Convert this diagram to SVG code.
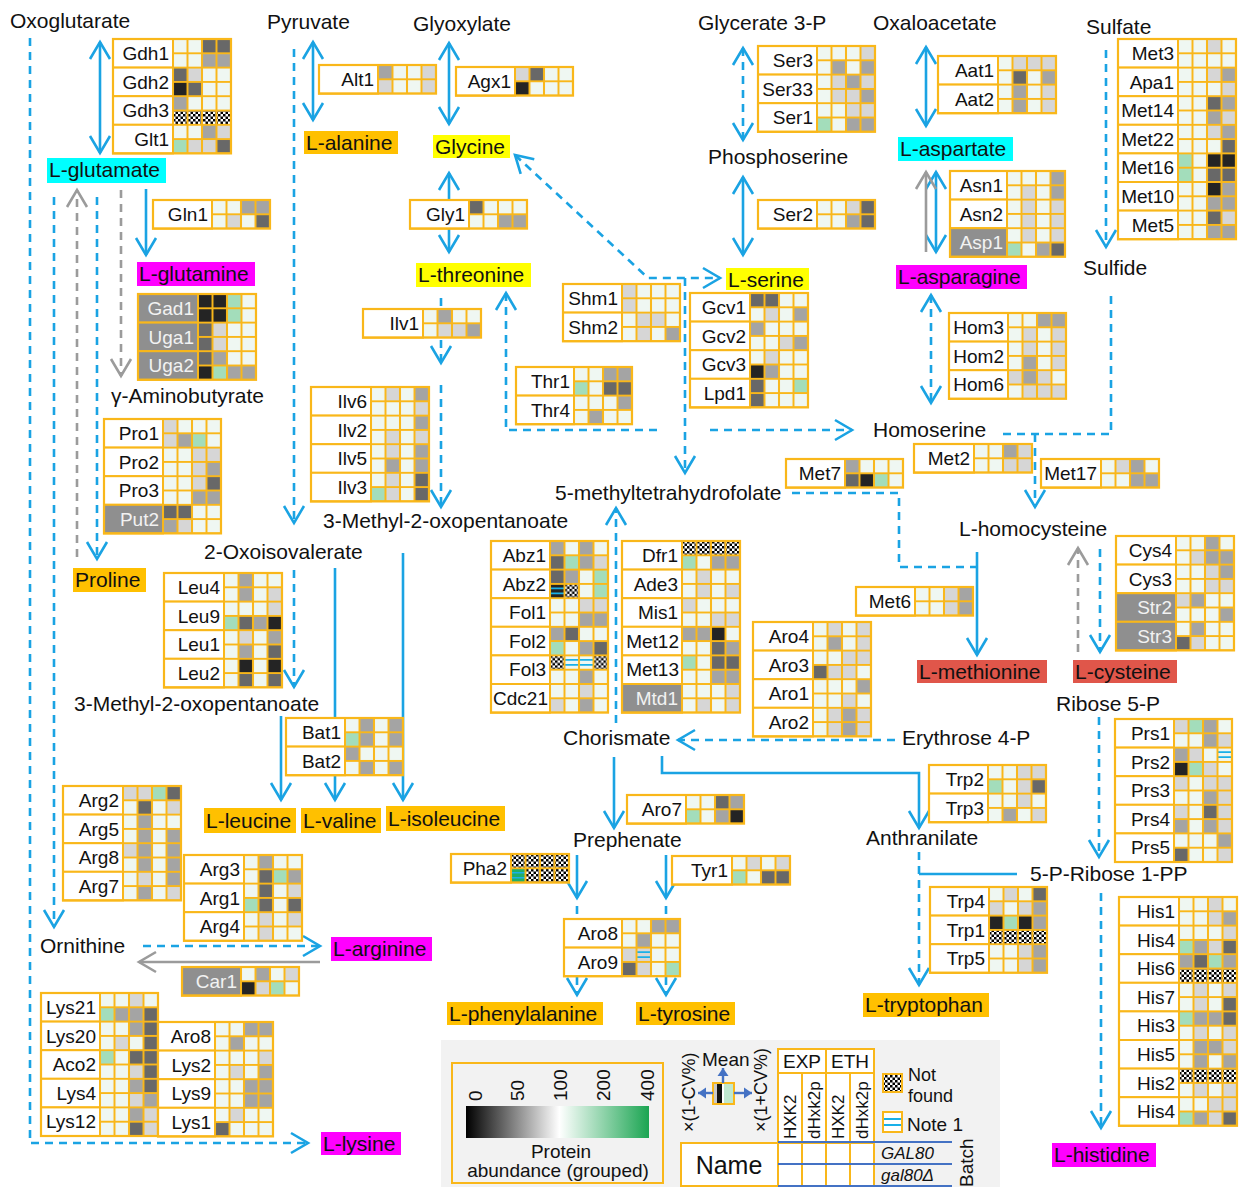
<svg xmlns="http://www.w3.org/2000/svg" width="1239" height="1187" viewBox="0 0 1239 1187">
<defs>
<style>
.nm{fill:#fff;stroke:#f9b71a;stroke-width:2}
.ng{fill:#8f8f8f;stroke:#f9b71a;stroke-width:2}
.hb{fill:#eff7f2}
.gr{fill:url(#grid)}
.ob{fill:none;stroke:#f9b71a;stroke-width:2.2}
text{font-family:"Liberation Sans",Arial,sans-serif}
.t{font-size:19px;text-anchor:end;fill:#111}
.tw{fill:#f2f2f2}
.lb{font-size:21px;fill:#111}
.G{fill:#a3ddbb}.k{fill:#d6d6d6}.m{fill:#a4a4a4}.d{fill:#686868}.K{fill:#242424}.x{fill:url(#chk)}
.b{fill:none;stroke:#1aa3e3;stroke-width:2.6}
.gy{fill:none;stroke:#9b9b9b;stroke-width:2.6}
.ds{stroke-dasharray:8 6}
.ae{marker-end:url(#a)}.as{marker-start:url(#a)}.age{marker-end:url(#ag)}.ale{marker-end:url(#al)}
.cy{fill:#00ffff}.yl{fill:#ffff00}.mg{fill:#ff00ff}.or{fill:#ffc000}.rd{fill:#e0564a}
</style>
<pattern id="grid" width="14.5" height="14.3" patternUnits="userSpaceOnUse"><path d="M0,0H14.5V14.3H0Z" fill="none" stroke="#f9b71a" stroke-width="2"/></pattern>
<pattern id="chk" width="5" height="5" patternUnits="userSpaceOnUse"><rect width="5" height="5" fill="#fff"/><path d="M0,0h2.5v2.5h-2.5zM2.5,2.5h2.5v2.5h-2.5z" fill="#000"/></pattern>
<linearGradient id="grad" x1="0" x2="1" y1="0" y2="0"><stop offset="0" stop-color="#000"/><stop offset="0.51" stop-color="#fff"/><stop offset="1" stop-color="#1ba552"/></linearGradient>
<rect id="c" width="14.5" height="14.3"/>
<path id="nl" d="M0,4.5H14.5M0,9.5H14.5" stroke="#1ab0e8" stroke-width="1.6"/>
<marker id="a" viewBox="-22 -13 26 26" refX="0" refY="0" markerWidth="26" markerHeight="26" markerUnits="userSpaceOnUse" orient="auto-start-reverse"><path d="M-17,-10L0,0L-17,10" fill="none" stroke="#1aa3e3" stroke-width="2.6"/></marker>
<marker id="ag" viewBox="-22 -13 26 26" refX="0" refY="0" markerWidth="26" markerHeight="26" markerUnits="userSpaceOnUse" orient="auto-start-reverse"><path d="M-17,-10L0,0L-17,10" fill="none" stroke="#9b9b9b" stroke-width="2.6"/></marker>
<marker id="al" viewBox="-9 -6 10 12" refX="0" refY="0" markerWidth="10" markerHeight="12" markerUnits="userSpaceOnUse" orient="auto"><path d="M-8,-5.5L0,0L-8,5.5Z" fill="#4472c4"/></marker>
</defs>
<rect width="1239" height="1187" fill="#fff"/>

<g id="connectors">
<path class="b ae as" d="M100,42V153"/>
<path class="b ae as" d="M313,42V120"/>
<path class="b ae as" d="M449,43V124"/>
<path class="b ae as" d="M449,173V252"/>
<path class="b ae as" d="M743,177V255"/>
<path class="b ae as" d="M926,47V126"/>
<path class="b ae as" d="M936,172V252"/>
<path class="b ae" d="M146,189V255"/>
<path class="b ae" d="M335,568V800"/>
<path class="b ae" d="M403,553V800"/>
<path class="b ae" d="M281,716V800"/>
<path class="b ae" d="M977,552V655"/>
<path class="b ae" d="M614,757V828"/>
<path class="b ae" d="M662,756V773H919V828"/>
<path class="b" d="M1017,874H919"/>
<path class="b ae" d="M577,855V898"/>
<path class="b ae" d="M666,855V898"/>
<path class="b ds ae" d="M30,38V1143H308"/>
<path class="b ds ae" d="M54,197V927"/>
<path class="b ds ae" d="M97,197V559"/>
<path class="b ds ae" d="M294,49V523"/>
<path class="b ds ae" d="M294,570V687"/>
<path class="b ds ae" d="M441,298V363"/>
<path class="b ds ae" d="M441,385V507"/>
<path class="b ds ae as" d="M515,155L648,278H720"/>
<path class="b ds ae" d="M685,278V473"/>
<path class="b ds as" d="M506,293V430H663"/>
<path class="b ds ae" d="M710,430H852"/>
<path class="b ds ae as" d="M743,48V140"/>
<path class="b ds ae as" d="M931,295V403"/>
<path class="b ds ae" d="M1106,50V247"/>
<path class="b ds" d="M1111,296V434H997"/>
<path class="b ds ae" d="M1035,434V507"/>
<path class="b ds" d="M792,493H899V567H977"/>
<path class="b ds ae" d="M1100,549V652"/>
<path class="b ds ae" d="M1099,717V857"/>
<path class="b ds ae" d="M1101,893V1128"/>
<path class="b ds ae" d="M919,852V985"/>
<path class="b ds ae" d="M895,740H678"/>
<path class="b ds ae" d="M616,723V508"/>
<path class="b ds ae" d="M143,946H320"/>
<path class="b ds" d="M577,906V919M666,906V919"/>
<path class="b ds ae" d="M577,977V995"/>
<path class="b ds ae" d="M666,977V995"/>
<path class="gy ds age" d="M77,557V190"/>
<path class="gy ds age" d="M121,190V376"/>
<path class="gy age" d="M926,252V172"/>
<path class="gy ds age" d="M1078,652V548"/>
<path class="gy age" d="M320,962H139"/>
</g>

<g id="metabolites">
<text class="lb" x="10" y="28">Oxoglutarate</text>
<text class="lb" x="267" y="29">Pyruvate</text>
<text class="lb" x="413" y="31">Glyoxylate</text>
<text class="lb" x="698" y="30">Glycerate 3-P</text>
<text class="lb" x="873" y="30">Oxaloacetate</text>
<text class="lb" x="1086" y="34">Sulfate</text>
<text class="lb" x="708" y="164">Phosphoserine</text>
<text class="lb" x="1083" y="275">Sulfide</text>
<text class="lb" x="111" y="403">γ-Aminobutyrate</text>
<text class="lb" x="873" y="437">Homoserine</text>
<text class="lb" x="555" y="500">5-methyltetrahydrofolate</text>
<text class="lb" x="323" y="528">3-Methyl-2-oxopentanoate</text>
<text class="lb" x="959" y="536">L-homocysteine</text>
<text class="lb" x="204" y="559">2-Oxoisovalerate</text>
<text class="lb" x="74" y="711">3-Methyl-2-oxopentanoate</text>
<text class="lb" x="1056" y="711">Ribose 5-P</text>
<text class="lb" x="563" y="745">Chorismate</text>
<text class="lb" x="902" y="745">Erythrose 4-P</text>
<text class="lb" x="866" y="845">Anthranilate</text>
<text class="lb" x="573" y="847">Prephenate</text>
<text class="lb" x="1030" y="881">5-P-Ribose 1-PP</text>
<text class="lb" x="40" y="953">Ornithine</text>
</g>
<g id="aminoacids">
<rect class="cy" x="47" y="158" width="119" height="25"/><text class="lb" x="49" y="177">L-glutamate</text>
<rect class="or" x="304" y="131" width="94" height="23"/><text class="lb" x="306" y="150">L-alanine</text>
<rect class="yl" x="433" y="135" width="77" height="23"/><text class="lb" x="435" y="154">Glycine</text>
<rect class="mg" x="137" y="262" width="118" height="24"/><text class="lb" x="139" y="281">L-glutamine</text>
<rect class="yl" x="416" y="263" width="115" height="24"/><text class="lb" x="418" y="282">L-threonine</text>
<rect class="yl" x="726" y="268" width="83" height="22"/><text class="lb" x="728" y="287">L-serine</text>
<rect class="cy" x="898" y="137" width="115" height="24"/><text class="lb" x="900" y="156">L-aspartate</text>
<rect class="mg" x="896" y="265" width="131" height="24"/><text class="lb" x="898" y="284">L-asparagine</text>
<rect class="or" x="73" y="568" width="73" height="24"/><text class="lb" x="75" y="587">Proline</text>
<rect class="rd" x="917" y="660" width="130" height="23"/><text class="lb" x="919" y="679">L-methionine</text>
<rect class="rd" x="1073" y="660" width="104" height="23"/><text class="lb" x="1075" y="679">L-cysteine</text>
<rect class="or" x="204" y="808" width="92" height="25"/><text class="lb" x="206" y="828">L-leucine</text>
<rect class="or" x="301" y="808" width="80" height="25"/><text class="lb" x="303" y="828">L-valine</text>
<rect class="or" x="386" y="806" width="119" height="25"/><text class="lb" x="388" y="826">L-isoleucine</text>
<rect class="mg" x="331" y="937" width="101" height="24"/><text class="lb" x="333" y="956">L-arginine</text>
<rect class="mg" x="321" y="1132" width="80" height="23"/><text class="lb" x="323" y="1151">L-lysine</text>
<rect class="or" x="447" y="1002" width="156" height="23"/><text class="lb" x="449" y="1021">L-phenylalanine</text>
<rect class="or" x="636" y="1002" width="99" height="23"/><text class="lb" x="638" y="1021">L-tyrosine</text>
<rect class="or" x="863" y="993" width="126" height="24"/><text class="lb" x="865" y="1012">L-tryptophan</text>
<rect class="mg" x="1052" y="1143" width="104" height="24"/><text class="lb" x="1054" y="1162">L-histidine</text>
</g>

<g id="n-gdh" transform="translate(113,39)">
<rect class="nm" width="60" height="28.6"/><rect class="nm" y="28.6" width="60" height="28.6"/><rect class="nm" y="57.2" width="60" height="28.6"/><rect class="nm" y="85.8" width="60" height="28.6"/>
<text class="t" x="56" y="21">Gdh1</text><text class="t" x="56" y="49.6">Gdh2</text><text class="t" x="56" y="78.2">Gdh3</text><text class="t" x="56" y="106.8">Glt1</text>
<g transform="translate(60,0)"><rect class="hb" width="58" height="114.4"/>
<use href="#c" class="d" x="29"/><use href="#c" class="d" x="43.5"/><use href="#c" class="m" x="29" y="14.3"/><use href="#c" class="m" x="43.5" y="14.3"/>
<use href="#c" class="d" y="28.6"/><use href="#c" class="k" x="14.5" y="28.6"/><use href="#c" class="K" y="42.9"/><use href="#c" class="d" x="14.5" y="42.9"/>
<use href="#c" class="m" y="57.2"/><rect class="x" y="71.5" width="58" height="14.3"/>
<use href="#c" class="m" x="29" y="85.8"/><use href="#c" class="k" x="43.5" y="85.8"/><use href="#c" class="G" y="100.1"/><use href="#c" class="k" x="14.5" y="100.1"/><use href="#c" class="k" x="29" y="100.1"/><use href="#c" class="d" x="43.5" y="100.1"/>
<rect class="gr" width="58" height="114.4"/></g>
<rect class="ob" width="118" height="114.4"/>
</g>

<g id="n-alt1" transform="translate(319,65)">
<rect class="nm" width="59" height="28.6"/><text class="t" x="55" y="21">Alt1</text>
<g transform="translate(59,0)"><rect class="hb" width="58" height="28.6"/>
<use href="#c" class="m"/><use href="#c" class="k" x="43.5"/><use href="#c" class="k" y="14.3"/><use href="#c" class="k" x="43.5" y="14.3"/>
<rect class="gr" width="58" height="28.6"/></g>
<rect class="ob" width="117" height="28.6"/>
</g>

<g id="n-agx1" transform="translate(456,67)">
<rect class="nm" width="59" height="28.6"/><text class="t" x="55" y="21">Agx1</text>
<g transform="translate(59,0)"><rect class="hb" width="58" height="28.6"/>
<use href="#c" class="k"/><use href="#c" class="d" x="14.5"/><use href="#c" class="K" y="14.3"/>
<rect class="gr" width="58" height="28.6"/></g>
<rect class="ob" width="117" height="28.6"/>
</g>

<g id="n-ser" transform="translate(758,46)">
<rect class="nm" width="59" height="28.6"/><rect class="nm" y="28.6" width="59" height="28.6"/><rect class="nm" y="57.2" width="59" height="28.6"/>
<text class="t" x="55" y="21">Ser3</text><text class="t" x="55" y="49.6">Ser33</text><text class="t" x="55" y="78.2">Ser1</text>
<g transform="translate(59,0)"><rect class="hb" width="58" height="85.8"/>
<use href="#c" class="k" x="43.5"/><use href="#c" class="m" x="14.5" y="14.3"/><use href="#c" class="m" x="43.5" y="14.3"/>
<use href="#c" class="k" x="14.5" y="28.6"/><use href="#c" class="m" x="29" y="28.6"/><use href="#c" class="k" x="43.5" y="28.6"/><use href="#c" class="k" x="14.5" y="42.9"/><use href="#c" class="k" x="29" y="42.9"/><use href="#c" class="m" x="43.5" y="42.9"/>
<use href="#c" class="k" x="29" y="57.2"/><use href="#c" class="k" x="43.5" y="57.2"/><use href="#c" class="G" y="71.5"/><use href="#c" class="m" x="29" y="71.5"/><use href="#c" class="m" x="43.5" y="71.5"/>
<rect class="gr" width="58" height="85.8"/></g>
<rect class="ob" width="117" height="85.8"/>
</g>

<g id="n-aat" transform="translate(938,56)">
<rect class="nm" width="60" height="28.6"/><rect class="nm" y="28.6" width="60" height="28.6"/>
<text class="t" x="56" y="21">Aat1</text><text class="t" x="56" y="49.6">Aat2</text>
<g transform="translate(60,0)"><rect class="hb" width="58" height="57.2"/>
<use href="#c" class="k" x="14.5"/><use href="#c" class="k" x="29"/><use href="#c" class="k" x="43.5"/><use href="#c" class="d" x="14.5" y="14.3"/><use href="#c" class="m" x="43.5" y="14.3"/>
<use href="#c" class="m" x="14.5" y="28.6"/><use href="#c" class="k" x="43.5" y="28.6"/><use href="#c" class="m" x="14.5" y="42.9"/><use href="#c" class="k" x="43.5" y="42.9"/>
<rect class="gr" width="58" height="57.2"/></g>
<rect class="ob" width="118" height="57.2"/>
</g>

<g id="n-met" transform="translate(1118,39)">
<rect class="nm" width="60" height="28.6"/><rect class="nm" y="28.6" width="60" height="28.6"/><rect class="nm" y="57.2" width="60" height="28.6"/><rect class="nm" y="85.8" width="60" height="28.6"/><rect class="nm" y="114.4" width="60" height="28.6"/><rect class="nm" y="143" width="60" height="28.6"/><rect class="nm" y="171.6" width="60" height="28.6"/>
<text class="t" x="56" y="21">Met3</text><text class="t" x="56" y="49.6">Apa1</text><text class="t" x="56" y="78.2">Met14</text><text class="t" x="56" y="106.8">Met22</text><text class="t" x="56" y="135.4">Met16</text><text class="t" x="56" y="164">Met10</text><text class="t" x="56" y="192.6">Met5</text>
<g transform="translate(60,0)"><rect class="hb" width="58" height="200.2"/>
<use href="#c" class="k" x="29"/>
<use href="#c" class="k" x="29" y="28.6"/><use href="#c" class="m" x="43.5" y="28.6"/><use href="#c" class="k" x="43.5" y="42.9"/>
<use href="#c" class="d" x="29" y="57.2"/><use href="#c" class="m" x="43.5" y="57.2"/><use href="#c" class="m" x="29" y="71.5"/><use href="#c" class="k" x="43.5" y="71.5"/>
<use href="#c" class="k" x="29" y="85.8"/><use href="#c" class="m" x="43.5" y="85.8"/><use href="#c" class="d" x="43.5" y="100.1"/>
<use href="#c" class="G" y="114.4"/><use href="#c" class="K" x="29" y="114.4"/><use href="#c" class="K" x="43.5" y="114.4"/><use href="#c" class="G" y="128.7"/><use href="#c" class="d" x="29" y="128.7"/><use href="#c" class="d" x="43.5" y="128.7"/>
<use href="#c" class="K" x="29" y="143"/><use href="#c" class="m" x="43.5" y="143"/><use href="#c" class="m" x="29" y="157.3"/><use href="#c" class="m" x="43.5" y="157.3"/>
<use href="#c" class="d" x="29" y="171.6"/><use href="#c" class="k" x="43.5" y="171.6"/><use href="#c" class="m" x="29" y="185.9"/><use href="#c" class="m" x="43.5" y="185.9"/>
<rect class="gr" width="58" height="200.2"/></g>
<rect class="ob" width="118" height="200.2"/>
</g>

<g id="n-gln1" transform="translate(153,200)">
<rect class="nm" width="59" height="28.6"/><text class="t" x="55" y="21">Gln1</text>
<g transform="translate(59,0)"><rect class="hb" width="58" height="28.6"/>
<use href="#c" class="m" x="29"/><use href="#c" class="m" x="43.5"/><use href="#c" class="k" x="14.5" y="14.3"/><use href="#c" class="d" x="43.5" y="14.3"/>
<rect class="gr" width="58" height="28.6"/></g>
<rect class="ob" width="117" height="28.6"/>
</g>

<g id="n-gly1" transform="translate(410,200)">
<rect class="nm" width="59" height="28.6"/><text class="t" x="55" y="21">Gly1</text>
<g transform="translate(59,0)"><rect class="hb" width="58" height="28.6"/>
<use href="#c" class="d"/><use href="#c" class="m" x="29" y="14.3"/><use href="#c" class="m" x="43.5" y="14.3"/>
<rect class="gr" width="58" height="28.6"/></g>
<rect class="ob" width="117" height="28.6"/>
</g>

<g id="n-ser2" transform="translate(758,200)">
<rect class="nm" width="59" height="28.6"/><text class="t" x="55" y="21">Ser2</text>
<g transform="translate(59,0)"><rect class="hb" width="58" height="28.6"/>
<use href="#c" class="k" x="29"/><use href="#c" class="d" x="43.5"/><use href="#c" class="m" x="29" y="14.3"/><use href="#c" class="d" x="43.5" y="14.3"/>
<rect class="gr" width="58" height="28.6"/></g>
<rect class="ob" width="117" height="28.6"/>
</g>

<g id="n-asn" transform="translate(950,171)">
<rect class="nm" width="57" height="28.6"/><rect class="nm" y="28.6" width="57" height="28.6"/><rect class="ng" y="57.2" width="57" height="28.6"/>
<text class="t" x="53" y="21">Asn1</text><text class="t" x="53" y="49.6">Asn2</text><text class="t tw" x="53" y="78.2">Asp1</text>
<g transform="translate(57,0)"><rect class="hb" width="58" height="85.8"/>
<use href="#c" class="m" x="43.5"/><use href="#c" class="k" x="14.5" y="14.3"/><use href="#c" class="m" x="43.5" y="14.3"/>
<use href="#c" class="k" x="14.5" y="28.6"/><use href="#c" class="k" x="43.5" y="28.6"/><use href="#c" class="k" x="14.5" y="42.9"/><use href="#c" class="k" x="43.5" y="42.9"/>
<use href="#c" class="k" x="14.5" y="57.2"/><use href="#c" class="k" x="43.5" y="57.2"/><use href="#c" class="G" y="71.5"/><use href="#c" class="m" x="29" y="71.5"/><use href="#c" class="d" x="43.5" y="71.5"/>
<rect class="gr" width="58" height="85.8"/></g>
<rect class="ob" width="115" height="85.8"/>
</g>

<g id="n-gad" transform="translate(138,294)">
<rect class="ng" width="60" height="28.6"/><rect class="ng" y="28.6" width="60" height="28.6"/><rect class="ng" y="57.2" width="60" height="28.6"/>
<text class="t tw" x="56" y="21">Gad1</text><text class="t tw" x="56" y="49.6">Uga1</text><text class="t tw" x="56" y="78.2">Uga2</text>
<g transform="translate(60,0)"><rect class="hb" width="58" height="85.8"/>
<use href="#c" class="K"/><use href="#c" class="K" x="14.5"/><use href="#c" class="G" x="29"/><use href="#c" class="K" y="14.3"/><use href="#c" class="K" x="14.5" y="14.3"/><use href="#c" class="G" x="29" y="14.3"/>
<use href="#c" class="d" y="28.6"/><use href="#c" class="k" x="14.5" y="28.6"/><use href="#c" class="d" y="42.9"/><use href="#c" class="k" x="14.5" y="42.9"/>
<use href="#c" class="d" y="57.2"/><use href="#c" class="m" x="14.5" y="57.2"/><use href="#c" class="K" y="71.5"/><use href="#c" class="G" x="14.5" y="71.5"/><use href="#c" class="m" x="29" y="71.5"/><use href="#c" class="m" x="43.5" y="71.5"/>
<rect class="gr" width="58" height="85.8"/></g>
<rect class="ob" width="118" height="85.8"/>
</g>

<g id="n-ilv1" transform="translate(363,309)">
<rect class="nm" width="60" height="28.6"/><text class="t" x="56" y="21">Ilv1</text>
<g transform="translate(60,0)"><rect class="hb" width="58" height="28.6"/>
<use href="#c" class="m" x="14.5"/><use href="#c" class="k" x="14.5" y="14.3"/><use href="#c" class="k" x="29" y="14.3"/><use href="#c" class="m" x="43.5" y="14.3"/>
<rect class="gr" width="58" height="28.6"/></g>
<rect class="ob" width="118" height="28.6"/>
</g>

<g id="n-shm" transform="translate(563,284)">
<rect class="nm" width="59" height="28.6"/><rect class="nm" y="28.6" width="59" height="28.6"/>
<text class="t" x="55" y="21">Shm1</text><text class="t" x="55" y="49.6">Shm2</text>
<g transform="translate(59,0)"><rect class="hb" width="58" height="57.2"/>
<use href="#c" class="k"/><use href="#c" class="k" y="14.3"/>
<use href="#c" class="k" x="14.5" y="28.6"/><use href="#c" class="k" x="29" y="28.6"/><use href="#c" class="k" x="14.5" y="42.9"/><use href="#c" class="m" x="43.5" y="42.9"/>
<rect class="gr" width="58" height="57.2"/></g>
<rect class="ob" width="117" height="57.2"/>
</g>

<g id="n-gcv" transform="translate(690,293)">
<rect class="nm" width="60" height="28.6"/><rect class="nm" y="28.6" width="60" height="28.6"/><rect class="nm" y="57.2" width="60" height="28.6"/><rect class="nm" y="85.8" width="60" height="28.6"/>
<text class="t" x="56" y="21">Gcv1</text><text class="t" x="56" y="49.6">Gcv2</text><text class="t" x="56" y="78.2">Gcv3</text><text class="t" x="56" y="106.8">Lpd1</text>
<g transform="translate(60,0)"><rect class="hb" width="58" height="114.4"/>
<use href="#c" class="d"/><use href="#c" class="d" x="14.5"/><use href="#c" class="k" x="14.5" y="14.3"/><use href="#c" class="m" x="43.5" y="14.3"/>
<use href="#c" class="m" y="28.6"/><use href="#c" class="k" x="29" y="42.9"/><use href="#c" class="m" x="43.5" y="42.9"/>
<use href="#c" class="k" x="14.5" y="57.2"/><use href="#c" class="K" y="71.5"/><use href="#c" class="m" x="14.5" y="71.5"/>
<use href="#c" class="d" y="85.8"/><use href="#c" class="G" x="43.5" y="85.8"/><use href="#c" class="d" y="100.1"/>
<rect class="gr" width="58" height="114.4"/></g>
<rect class="ob" width="118" height="114.4"/>
</g>

<g id="n-hom" transform="translate(949,313)">
<rect class="nm" width="59" height="28.6"/><rect class="nm" y="28.6" width="59" height="28.6"/><rect class="nm" y="57.2" width="59" height="28.6"/>
<text class="t" x="55" y="21">Hom3</text><text class="t" x="55" y="49.6">Hom2</text><text class="t" x="55" y="78.2">Hom6</text>
<g transform="translate(59,0)"><rect class="hb" width="58" height="85.8"/>
<use href="#c" class="m" x="29"/><use href="#c" class="m" x="43.5"/><use href="#c" class="k" x="14.5" y="14.3"/><use href="#c" class="k" x="43.5" y="14.3"/>
<use href="#c" class="k" x="14.5" y="28.6"/><use href="#c" class="k" x="43.5" y="28.6"/><use href="#c" class="m" x="14.5" y="42.9"/><use href="#c" class="k" x="43.5" y="42.9"/>
<use href="#c" class="k" y="57.2"/><use href="#c" class="m" x="14.5" y="57.2"/><use href="#c" class="k" x="29" y="57.2"/><use href="#c" class="k" x="14.5" y="71.5"/><use href="#c" class="k" x="29" y="71.5"/><use href="#c" class="k" x="43.5" y="71.5"/>
<rect class="gr" width="58" height="85.8"/></g>
<rect class="ob" width="117" height="85.8"/>
</g>

<g id="n-thr" transform="translate(516,367)">
<rect class="nm" width="58" height="28.6"/><rect class="nm" y="28.6" width="58" height="28.6"/>
<text class="t" x="54" y="21">Thr1</text><text class="t" x="54" y="49.6">Thr4</text>
<g transform="translate(58,0)"><rect class="hb" width="58" height="57.2"/>
<use href="#c" class="m" x="29"/><use href="#c" class="m" x="43.5"/><use href="#c" class="G" y="14.3"/><use href="#c" class="d" x="29" y="14.3"/><use href="#c" class="d" x="43.5" y="14.3"/>
<use href="#c" class="m" x="43.5" y="28.6"/><use href="#c" class="m" x="14.5" y="42.9"/>
<rect class="gr" width="58" height="57.2"/></g>
<rect class="ob" width="116" height="57.2"/>
</g>

<g id="n-ilv" transform="translate(311,387)">
<rect class="nm" width="60" height="28.6"/><rect class="nm" y="28.6" width="60" height="28.6"/><rect class="nm" y="57.2" width="60" height="28.6"/><rect class="nm" y="85.8" width="60" height="28.6"/>
<text class="t" x="56" y="21">Ilv6</text><text class="t" x="56" y="49.6">Ilv2</text><text class="t" x="56" y="78.2">Ilv5</text><text class="t" x="56" y="106.8">Ilv3</text>
<g transform="translate(60,0)"><rect class="hb" width="58" height="114.4"/>
<use href="#c" class="k" x="14.5"/><use href="#c" class="m" x="43.5"/><use href="#c" class="k" x="43.5" y="14.3"/>
<use href="#c" class="m" x="43.5" y="28.6"/><use href="#c" class="k" x="14.5" y="42.9"/><use href="#c" class="k" x="43.5" y="42.9"/>
<use href="#c" class="k" x="14.5" y="57.2"/><use href="#c" class="m" x="43.5" y="57.2"/><use href="#c" class="m" x="14.5" y="71.5"/><use href="#c" class="m" x="43.5" y="71.5"/>
<use href="#c" class="k" x="14.5" y="85.8"/><use href="#c" class="d" x="43.5" y="85.8"/><use href="#c" class="G" y="100.1"/><use href="#c" class="k" x="14.5" y="100.1"/><use href="#c" class="d" x="43.5" y="100.1"/>
<rect class="gr" width="58" height="114.4"/></g>
<rect class="ob" width="118" height="114.4"/>
</g>

<g id="n-pro" transform="translate(104,419)">
<rect class="nm" width="59" height="28.6"/><rect class="nm" y="28.6" width="59" height="28.6"/><rect class="nm" y="57.2" width="59" height="28.6"/><rect class="ng" y="85.8" width="59" height="28.6"/>
<text class="t" x="55" y="21">Pro1</text><text class="t" x="55" y="49.6">Pro2</text><text class="t" x="55" y="78.2">Pro3</text><text class="t tw" x="55" y="106.8">Put2</text>
<g transform="translate(59,0)"><rect class="hb" width="58" height="114.4"/>
<use href="#c" class="k"/><use href="#c" class="k" y="14.3"/><use href="#c" class="m" x="14.5" y="14.3"/><use href="#c" class="G" x="29" y="14.3"/>
<use href="#c" class="k" x="29" y="28.6"/><use href="#c" class="k" x="43.5" y="28.6"/><use href="#c" class="k" x="29" y="42.9"/><use href="#c" class="m" x="43.5" y="42.9"/>
<use href="#c" class="k" x="29" y="57.2"/><use href="#c" class="d" x="43.5" y="57.2"/><use href="#c" class="m" x="29" y="71.5"/><use href="#c" class="m" x="43.5" y="71.5"/>
<use href="#c" class="d" y="85.8"/><use href="#c" class="d" x="14.5" y="85.8"/><use href="#c" class="m" y="100.1"/><use href="#c" class="k" x="14.5" y="100.1"/>
<rect class="gr" width="58" height="114.4"/></g>
<rect class="ob" width="117" height="114.4"/>
</g>

<g id="n-met7" transform="translate(786,459)">
<rect class="nm" width="59" height="28.6"/><text class="t" x="55" y="21">Met7</text>
<g transform="translate(59,0)"><rect class="hb" width="58" height="28.6"/>
<use href="#c" class="m"/><use href="#c" class="d" y="14.3"/><use href="#c" class="K" x="14.5" y="14.3"/><use href="#c" class="G" x="29" y="14.3"/>
<rect class="gr" width="58" height="28.6"/></g>
<rect class="ob" width="117" height="28.6"/>
</g>

<g id="n-met2" transform="translate(914,444)">
<rect class="nm" width="60" height="28.6"/><text class="t" x="56" y="21">Met2</text>
<g transform="translate(60,0)"><rect class="hb" width="58" height="28.6"/>
<use href="#c" class="m" x="29"/><use href="#c" class="k" x="43.5"/><use href="#c" class="k" x="29" y="14.3"/><use href="#c" class="k" x="43.5" y="14.3"/>
<rect class="gr" width="58" height="28.6"/></g>
<rect class="ob" width="118" height="28.6"/>
</g>

<g id="n-met17" transform="translate(1041,459)">
<rect class="nm" width="60" height="28.6"/><text class="t" x="56" y="21">Met17</text>
<g transform="translate(60,0)"><rect class="hb" width="58" height="28.6"/>
<use href="#c" class="k" x="14.5"/><use href="#c" class="m" x="29"/><use href="#c" class="m" x="29" y="14.3"/><use href="#c" class="m" x="43.5" y="14.3"/>
<rect class="gr" width="58" height="28.6"/></g>
<rect class="ob" width="118" height="28.6"/>
</g>

<g id="n-cys" transform="translate(1116,536)">
<rect class="nm" width="60" height="28.6"/><rect class="nm" y="28.6" width="60" height="28.6"/><rect class="ng" y="57.2" width="60" height="28.6"/><rect class="ng" y="85.8" width="60" height="28.6"/>
<text class="t" x="56" y="21">Cys4</text><text class="t" x="56" y="49.6">Cys3</text><text class="t tw" x="56" y="78.2">Str2</text><text class="t tw" x="56" y="106.8">Str3</text>
<g transform="translate(60,0)"><rect class="hb" width="58" height="114.4"/>
<use href="#c" class="m" x="29"/><use href="#c" class="k" x="14.5" y="14.3"/><use href="#c" class="m" x="29" y="14.3"/><use href="#c" class="m" x="43.5" y="14.3"/>
<use href="#c" class="k" x="29" y="28.6"/><use href="#c" class="m" x="43.5" y="28.6"/><use href="#c" class="k" x="29" y="42.9"/><use href="#c" class="k" x="43.5" y="42.9"/>
<use href="#c" class="k" y="57.2"/><use href="#c" class="m" x="14.5" y="57.2"/><use href="#c" class="m" x="43.5" y="71.5"/>
<use href="#c" class="m" x="14.5" y="85.8"/><use href="#c" class="d" y="100.1"/><use href="#c" class="k" x="14.5" y="100.1"/>
<rect class="gr" width="58" height="114.4"/></g>
<rect class="ob" width="118" height="114.4"/>
</g>

<g id="n-leu" transform="translate(164,573)">
<rect class="nm" width="60" height="28.6"/><rect class="nm" y="28.6" width="60" height="28.6"/><rect class="nm" y="57.2" width="60" height="28.6"/><rect class="nm" y="85.8" width="60" height="28.6"/>
<text class="t" x="56" y="21">Leu4</text><text class="t" x="56" y="49.6">Leu9</text><text class="t" x="56" y="78.2">Leu1</text><text class="t" x="56" y="106.8">Leu2</text>
<g transform="translate(60,0)"><rect class="hb" width="58" height="114.4"/>
<use href="#c" class="m" x="14.5"/><use href="#c" class="m" x="14.5" y="14.3"/><use href="#c" class="k" x="43.5" y="14.3"/>
<use href="#c" class="k" x="43.5" y="28.6"/><use href="#c" class="G" y="42.9"/><use href="#c" class="d" x="14.5" y="42.9"/><use href="#c" class="m" x="29" y="42.9"/><use href="#c" class="K" x="43.5" y="42.9"/>
<use href="#c" class="k" x="14.5" y="57.2"/><use href="#c" class="m" x="43.5" y="57.2"/><use href="#c" class="m" x="14.5" y="71.5"/><use href="#c" class="d" x="43.5" y="71.5"/>
<use href="#c" class="K" x="14.5" y="85.8"/><use href="#c" class="K" x="43.5" y="85.8"/><use href="#c" class="d" x="14.5" y="100.1"/><use href="#c" class="d" x="43.5" y="100.1"/>
<rect class="gr" width="58" height="114.4"/></g>
<rect class="ob" width="118" height="114.4"/>
</g>

<g id="n-abz" transform="translate(491,541)">
<rect class="nm" width="59" height="28.6"/><rect class="nm" y="28.6" width="59" height="28.6"/><rect class="nm" y="57.2" width="59" height="28.6"/><rect class="nm" y="85.8" width="59" height="28.6"/><rect class="nm" y="114.4" width="59" height="28.6"/><rect class="nm" y="143" width="59" height="28.6"/>
<text class="t" x="55" y="21">Abz1</text><text class="t" x="55" y="49.6">Abz2</text><text class="t" x="55" y="78.2">Fol1</text><text class="t" x="55" y="106.8">Fol2</text><text class="t" x="55" y="135.4">Fol3</text><text class="t" x="57" y="164">Cdc21</text>
<g transform="translate(59,0)"><rect class="hb" width="58" height="171.6"/>
<use href="#c" class="m"/><use href="#c" class="m" x="29"/><use href="#c" class="d" y="14.3"/><use href="#c" class="G" x="14.5" y="14.3"/><use href="#c" class="m" x="29" y="14.3"/><use href="#c" class="k" x="43.5" y="14.3"/>
<use href="#c" class="d" y="28.6"/><use href="#c" class="m" x="14.5" y="28.6"/><use href="#c" class="G" x="43.5" y="28.6"/><use href="#c" class="K" y="42.9"/><use href="#nl" y="42.9"/><use href="#c" class="x" x="14.5" y="42.9"/><use href="#c" class="G" x="43.5" y="42.9"/>
<use href="#c" class="k" x="29" y="57.2"/><use href="#c" class="k" x="43.5" y="57.2"/><use href="#c" class="m" x="29" y="71.5"/><use href="#c" class="m" x="43.5" y="71.5"/>
<use href="#c" class="m" y="85.8"/><use href="#c" class="d" x="14.5" y="85.8"/><use href="#c" class="G" y="100.1"/><use href="#c" class="m" x="29" y="100.1"/><use href="#c" class="d" x="43.5" y="100.1"/>
<use href="#c" class="x" y="114.4"/><use href="#c" class="x" x="43.5" y="114.4"/><use href="#nl" x="14.5" y="114.4"/><use href="#nl" x="29" y="114.4"/><use href="#c" class="m" x="29" y="128.7"/>
<use href="#c" class="k" x="29" y="143"/><use href="#c" class="k" y="157.3"/><use href="#c" class="m" x="29" y="157.3"/>
<rect class="gr" width="58" height="171.6"/></g>
<rect class="ob" width="117" height="171.6"/>
</g>

<g id="n-dfr" transform="translate(622,541)">
<rect class="nm" width="60" height="28.6"/><rect class="nm" y="28.6" width="60" height="28.6"/><rect class="nm" y="57.2" width="60" height="28.6"/><rect class="nm" y="85.8" width="60" height="28.6"/><rect class="nm" y="114.4" width="60" height="28.6"/><rect class="ng" y="143" width="60" height="28.6"/>
<text class="t" x="56" y="21">Dfr1</text><text class="t" x="56" y="49.6">Ade3</text><text class="t" x="56" y="78.2">Mis1</text><text class="t" x="57" y="106.8">Met12</text><text class="t" x="57" y="135.4">Met13</text><text class="t tw" x="56" y="164">Mtd1</text>
<g transform="translate(60,0)"><rect class="hb" width="58" height="171.6"/>
<rect class="x" width="58" height="14.3"/><use href="#c" class="G" y="14.3"/><use href="#c" class="m" x="29" y="14.3"/><use href="#c" class="m" x="43.5" y="14.3"/>
<use href="#c" class="k" x="14.5" y="28.6"/><use href="#c" class="k" x="14.5" y="42.9"/><use href="#c" class="k" x="43.5" y="42.9"/>
<use href="#c" class="k" y="57.2"/><use href="#c" class="k" x="29" y="71.5"/><use href="#c" class="k" x="43.5" y="71.5"/>
<use href="#c" class="m" y="85.8"/><use href="#c" class="m" x="14.5" y="85.8"/><use href="#c" class="K" x="29" y="85.8"/><use href="#c" class="d" x="29" y="100.1"/><use href="#c" class="m" x="43.5" y="100.1"/>
<use href="#c" class="G" y="114.4"/><use href="#c" class="d" x="29" y="114.4"/><use href="#c" class="d" x="43.5" y="114.4"/><use href="#c" class="m" x="29" y="128.7"/><use href="#c" class="m" x="43.5" y="128.7"/>
<use href="#c" class="k" x="43.5" y="143"/><use href="#c" class="k" x="14.5" y="157.3"/><use href="#c" class="k" x="43.5" y="157.3"/>
<rect class="gr" width="58" height="171.6"/></g>
<rect class="ob" width="118" height="171.6"/>
</g>

<g id="n-met6" transform="translate(856,587)">
<rect class="nm" width="59" height="28.6"/><text class="t" x="55" y="21">Met6</text>
<g transform="translate(59,0)"><rect class="hb" width="58" height="28.6"/>
<use href="#c" class="k" x="29"/><use href="#c" class="m" x="43.5"/><use href="#c" class="k" x="29" y="14.3"/><use href="#c" class="m" x="43.5" y="14.3"/>
<rect class="gr" width="58" height="28.6"/></g>
<rect class="ob" width="117" height="28.6"/>
</g>

<g id="n-aro4" transform="translate(753,622)">
<rect class="nm" width="60" height="28.6"/><rect class="nm" y="28.6" width="60" height="28.6"/><rect class="nm" y="57.2" width="60" height="28.6"/><rect class="nm" y="85.8" width="60" height="28.6"/>
<text class="t" x="56" y="21">Aro4</text><text class="t" x="56" y="49.6">Aro3</text><text class="t" x="56" y="78.2">Aro1</text><text class="t" x="56" y="106.8">Aro2</text>
<g transform="translate(60,0)"><rect class="hb" width="58" height="114.4"/>
<use href="#c" class="k" x="14.5"/><use href="#c" class="k" x="43.5"/><use href="#c" class="m" x="14.5" y="14.3"/><use href="#c" class="k" x="43.5" y="14.3"/>
<use href="#c" class="k" x="29" y="28.6"/><use href="#c" class="k" x="43.5" y="28.6"/><use href="#c" class="d" y="42.9"/><use href="#c" class="k" x="14.5" y="42.9"/><use href="#c" class="k" x="29" y="42.9"/>
<use href="#c" class="m" x="43.5" y="57.2"/><use href="#c" class="k" x="29" y="71.5"/>
<use href="#c" class="k" x="14.5" y="85.8"/><use href="#c" class="m" x="29" y="85.8"/><use href="#c" class="k" x="43.5" y="85.8"/><use href="#c" class="k" x="14.5" y="100.1"/><use href="#c" class="m" x="29" y="100.1"/><use href="#c" class="k" x="43.5" y="100.1"/>
<rect class="gr" width="58" height="114.4"/></g>
<rect class="ob" width="118" height="114.4"/>
</g>

<g id="n-bat" transform="translate(286,718)">
<rect class="nm" width="59" height="28.6"/><rect class="nm" y="28.6" width="59" height="28.6"/>
<text class="t" x="55" y="21">Bat1</text><text class="t" x="55" y="49.6">Bat2</text>
<g transform="translate(59,0)"><rect class="hb" width="58" height="57.2"/>
<use href="#c" class="m" x="14.5"/><use href="#c" class="m" x="43.5"/><use href="#c" class="G" y="14.3"/><use href="#c" class="m" x="14.5" y="14.3"/><use href="#c" class="m" x="43.5" y="14.3"/>
<use href="#c" class="m" y="28.6"/><use href="#c" class="m" x="14.5" y="42.9"/><use href="#c" class="m" x="43.5" y="42.9"/>
<rect class="gr" width="58" height="57.2"/></g>
<rect class="ob" width="117" height="57.2"/>
</g>

<g id="n-trp23" transform="translate(929,765)">
<rect class="nm" width="59" height="28.6"/><rect class="nm" y="28.6" width="59" height="28.6"/>
<text class="t" x="55" y="21">Trp2</text><text class="t" x="55" y="49.6">Trp3</text>
<g transform="translate(59,0)"><rect class="hb" width="58" height="57.2"/>
<use href="#c" class="k" x="29"/><use href="#c" class="k" x="43.5"/><use href="#c" class="G" y="14.3"/><use href="#c" class="k" x="29" y="14.3"/><use href="#c" class="d" x="43.5" y="14.3"/>
<use href="#c" class="k" x="29" y="28.6"/><use href="#c" class="m" x="14.5" y="42.9"/><use href="#c" class="k" x="43.5" y="42.9"/>
<rect class="gr" width="58" height="57.2"/></g>
<rect class="ob" width="117" height="57.2"/>
</g>

<g id="n-prs" transform="translate(1115,719)">
<rect class="nm" width="59" height="28.6"/><rect class="nm" y="28.6" width="59" height="28.6"/><rect class="nm" y="57.2" width="59" height="28.6"/><rect class="nm" y="85.8" width="59" height="28.6"/><rect class="nm" y="114.4" width="59" height="28.6"/>
<text class="t" x="55" y="21">Prs1</text><text class="t" x="55" y="49.6">Prs2</text><text class="t" x="55" y="78.2">Prs3</text><text class="t" x="55" y="106.8">Prs4</text><text class="t" x="55" y="135.4">Prs5</text>
<g transform="translate(59,0)"><rect class="hb" width="58" height="143"/>
<use href="#c" class="k"/><use href="#c" class="G" x="14.5"/><use href="#c" class="m" x="29"/><use href="#c" class="m" x="29" y="14.3"/><use href="#c" class="k" x="43.5" y="14.3"/>
<use href="#c" class="m" y="28.6"/><use href="#c" class="k" x="14.5" y="28.6"/><use href="#nl" x="43.5" y="28.6"/><use href="#c" class="K" y="42.9"/><use href="#c" class="G" x="14.5" y="42.9"/><use href="#c" class="k" x="29" y="42.9"/>
<use href="#c" class="k" y="57.2"/><use href="#c" class="k" x="29" y="57.2"/><use href="#c" class="k" x="43.5" y="57.2"/><use href="#c" class="m" x="29" y="71.5"/><use href="#c" class="k" x="43.5" y="71.5"/>
<use href="#c" class="k" y="85.8"/><use href="#c" class="d" x="29" y="85.8"/><use href="#c" class="k" x="43.5" y="85.8"/><use href="#c" class="m" y="100.1"/><use href="#c" class="m" x="29" y="100.1"/><use href="#c" class="k" x="43.5" y="100.1"/>
<use href="#c" class="m" x="43.5" y="114.4"/><use href="#c" class="d" y="128.7"/><use href="#c" class="k" x="43.5" y="128.7"/>
<rect class="gr" width="58" height="143"/></g>
<rect class="ob" width="117" height="143"/>
</g>

<g id="n-aro7" transform="translate(627,795)">
<rect class="nm" width="59" height="28.6"/><text class="t" x="55" y="21">Aro7</text>
<g transform="translate(59,0)"><rect class="hb" width="58" height="28.6"/>
<use href="#c" class="d" x="29"/><use href="#c" class="m" x="43.5"/><use href="#c" class="G" y="14.3"/><use href="#c" class="m" x="29" y="14.3"/><use href="#c" class="K" x="43.5" y="14.3"/>
<rect class="gr" width="58" height="28.6"/></g>
<rect class="ob" width="117" height="28.6"/>
</g>

<g id="n-arg2" transform="translate(63,786)">
<rect class="nm" width="60" height="28.6"/><rect class="nm" y="28.6" width="60" height="28.6"/><rect class="nm" y="57.2" width="60" height="28.6"/><rect class="nm" y="85.8" width="60" height="28.6"/>
<text class="t" x="56" y="21">Arg2</text><text class="t" x="56" y="49.6">Arg5</text><text class="t" x="56" y="78.2">Arg8</text><text class="t" x="56" y="106.8">Arg7</text>
<g transform="translate(60,0)"><rect class="hb" width="58" height="114.4"/>
<use href="#c" class="k"/><use href="#c" class="k" x="14.5"/><use href="#c" class="G" x="29"/><use href="#c" class="d" x="43.5"/><use href="#c" class="d" x="14.5" y="14.3"/><use href="#c" class="k" x="43.5" y="14.3"/>
<use href="#c" class="m" x="14.5" y="28.6"/><use href="#c" class="m" x="14.5" y="42.9"/><use href="#c" class="m" x="43.5" y="42.9"/>
<use href="#c" class="k" y="57.2"/><use href="#c" class="m" x="14.5" y="57.2"/><use href="#c" class="m" x="43.5" y="57.2"/><use href="#c" class="m" x="14.5" y="71.5"/><use href="#c" class="m" x="43.5" y="71.5"/>
<use href="#c" class="k" x="14.5" y="85.8"/><use href="#c" class="m" x="43.5" y="85.8"/><use href="#c" class="m" x="14.5" y="100.1"/><use href="#c" class="k" x="43.5" y="100.1"/>
<rect class="gr" width="58" height="114.4"/></g>
<rect class="ob" width="118" height="114.4"/>
</g>

<g id="n-arg3" transform="translate(184,855)">
<rect class="nm" width="60" height="28.6"/><rect class="nm" y="28.6" width="60" height="28.6"/><rect class="nm" y="57.2" width="60" height="28.6"/>
<text class="t" x="56" y="21">Arg3</text><text class="t" x="56" y="49.6">Arg1</text><text class="t" x="56" y="78.2">Arg4</text>
<g transform="translate(60,0)"><rect class="hb" width="58" height="85.8"/>
<use href="#c" class="m" x="14.5"/><use href="#c" class="d" x="14.5" y="14.3"/><use href="#c" class="G" x="29" y="14.3"/><use href="#c" class="m" x="43.5" y="14.3"/>
<use href="#c" class="d" x="14.5" y="28.6"/><use href="#c" class="k" x="43.5" y="28.6"/><use href="#c" class="G" y="42.9"/><use href="#c" class="d" x="14.5" y="42.9"/><use href="#c" class="d" x="43.5" y="42.9"/>
<use href="#c" class="k" x="14.5" y="57.2"/><use href="#c" class="k" x="43.5" y="57.2"/><use href="#c" class="k" x="14.5" y="71.5"/>
<rect class="gr" width="58" height="85.8"/></g>
<rect class="ob" width="118" height="85.8"/>
</g>

<g id="n-pha2" transform="translate(451,854)">
<rect class="nm" width="60" height="28.6"/><text class="t" x="56" y="21">Pha2</text>
<g transform="translate(60,0)"><rect class="hb" width="58" height="28.6"/>
<rect class="x" width="58" height="14.3"/><rect class="x" x="14.5" y="14.3" width="43.5" height="14.3"/><use href="#c" fill="#1fae6a" y="14.3"/><use href="#nl" y="14.3"/>
<rect class="gr" width="58" height="28.6"/></g>
<rect class="ob" width="118" height="28.6"/>
</g>

<g id="n-tyr1" transform="translate(672,856)">
<rect class="nm" width="60" height="28.6"/><text class="t" x="56" y="21">Tyr1</text>
<g transform="translate(60,0)"><rect class="hb" width="58" height="28.6"/>
<use href="#c" class="k" x="14.5"/><use href="#c" class="k" x="43.5"/><use href="#c" class="G" y="14.3"/><use href="#c" class="d" x="29" y="14.3"/><use href="#c" class="d" x="43.5" y="14.3"/>
<rect class="gr" width="58" height="28.6"/></g>
<rect class="ob" width="118" height="28.6"/>
</g>

<g id="n-aro89" transform="translate(564,919)">
<rect class="nm" width="58" height="28.6"/><rect class="nm" y="28.6" width="58" height="28.6"/>
<text class="t" x="54" y="21">Aro8</text><text class="t" x="54" y="49.6">Aro9</text>
<g transform="translate(58,0)"><rect class="hb" width="58" height="57.2"/>
<use href="#c" class="m" x="29"/><use href="#c" class="m" x="43.5"/><use href="#c" class="m" x="14.5" y="14.3"/>
<use href="#c" class="k" y="28.6"/><use href="#c" class="k" x="14.5" y="28.6"/><use href="#nl" x="14.5" y="28.6"/><use href="#c" class="d" y="42.9"/><use href="#c" class="k" x="14.5" y="42.9"/><use href="#c" class="G" x="43.5" y="42.9"/>
<rect class="gr" width="58" height="57.2"/></g>
<rect class="ob" width="116" height="57.2"/>
</g>

<g id="n-trp4" transform="translate(930,887)">
<rect class="nm" width="59" height="28.6"/><rect class="nm" y="28.6" width="59" height="28.6"/><rect class="nm" y="57.2" width="59" height="28.6"/>
<text class="t" x="55" y="21">Trp4</text><text class="t" x="55" y="49.6">Trp1</text><text class="t" x="55" y="78.2">Trp5</text>
<g transform="translate(59,0)"><rect class="hb" width="58" height="85.8"/>
<use href="#c" class="k" x="14.5"/><use href="#c" class="d" x="43.5"/><use href="#c" class="k" y="14.3"/><use href="#c" class="k" x="29" y="14.3"/><use href="#c" class="m" x="43.5" y="14.3"/>
<use href="#c" class="K" y="28.6"/><use href="#c" class="G" x="14.5" y="28.6"/><use href="#c" class="K" x="29" y="28.6"/><use href="#c" class="m" x="43.5" y="28.6"/><rect class="x" y="42.9" width="58" height="14.3"/>
<use href="#c" class="k" x="29" y="57.2"/><use href="#c" class="m" x="43.5" y="57.2"/><use href="#c" class="k" x="29" y="71.5"/><use href="#c" class="m" x="43.5" y="71.5"/>
<rect class="gr" width="58" height="85.8"/></g>
<rect class="ob" width="117" height="85.8"/>
</g>

<g id="n-his" transform="translate(1119,897)">
<rect class="nm" width="60" height="28.6"/><rect class="nm" y="28.6" width="60" height="28.6"/><rect class="nm" y="57.2" width="60" height="28.6"/><rect class="nm" y="85.8" width="60" height="28.6"/><rect class="nm" y="114.4" width="60" height="28.6"/><rect class="nm" y="143" width="60" height="28.6"/><rect class="nm" y="171.6" width="60" height="28.6"/><rect class="nm" y="200.2" width="60" height="28.6"/>
<text class="t" x="56" y="21">His1</text><text class="t" x="56" y="49.6">His4</text><text class="t" x="56" y="78.2">His6</text><text class="t" x="56" y="106.8">His7</text><text class="t" x="56" y="135.4">His3</text><text class="t" x="56" y="164">His5</text><text class="t" x="56" y="192.6">His2</text><text class="t" x="56" y="221.2">His4</text>
<g transform="translate(60,0)"><rect class="hb" width="58" height="228.8"/>
<use href="#c" class="k" x="29"/><use href="#c" class="k" x="29" y="14.3"/><use href="#c" class="m" x="43.5" y="14.3"/>
<use href="#c" class="k" x="43.5" y="28.6"/><use href="#c" class="G" y="42.9"/><use href="#c" class="m" x="14.5" y="42.9"/><use href="#c" class="k" x="29" y="42.9"/><use href="#c" class="d" x="43.5" y="42.9"/>
<use href="#c" class="m" y="57.2"/><use href="#c" class="d" x="14.5" y="57.2"/><use href="#c" class="G" x="29" y="57.2"/><use href="#c" class="m" x="43.5" y="57.2"/><rect class="x" y="71.5" width="58" height="14.3"/>
<use href="#c" class="k" x="14.5" y="85.8"/><use href="#c" class="k" x="43.5" y="85.8"/><use href="#c" class="k" x="14.5" y="100.1"/><use href="#c" class="d" x="43.5" y="100.1"/>
<use href="#c" class="G" y="114.4"/><use href="#c" class="m" x="14.5" y="114.4"/><use href="#c" class="m" x="29" y="114.4"/><use href="#c" class="d" x="43.5" y="114.4"/><use href="#c" class="k" x="14.5" y="128.7"/><use href="#c" class="k" x="43.5" y="128.7"/>
<use href="#c" class="m" x="14.5" y="143"/><use href="#c" class="m" x="29" y="143"/><use href="#c" class="k" x="43.5" y="143"/><use href="#c" class="m" x="14.5" y="157.3"/><use href="#c" class="m" x="43.5" y="157.3"/>
<rect class="x" y="171.6" width="58" height="14.3"/><use href="#c" class="k" x="14.5" y="185.9"/><use href="#c" class="k" x="43.5" y="185.9"/>
<use href="#c" class="k" x="29" y="200.2"/><use href="#c" class="k" x="43.5" y="200.2"/><use href="#c" class="G" y="214.5"/><use href="#c" class="m" x="14.5" y="214.5"/><use href="#c" class="k" x="29" y="214.5"/><use href="#c" class="d" x="43.5" y="214.5"/>
<rect class="gr" width="58" height="228.8"/></g>
<rect class="ob" width="118" height="228.8"/>
</g>

<g id="n-car1" transform="translate(182,967)">
<rect class="ng" width="59" height="28.6"/><text class="t tw" x="55" y="21">Car1</text>
<g transform="translate(59,0)"><rect class="hb" width="58" height="28.6"/>
<use href="#c" class="m" x="14.5"/><use href="#c" class="k" x="43.5"/><use href="#c" class="K" y="14.3"/><use href="#c" class="k" x="14.5" y="14.3"/><use href="#c" class="G" x="29" y="14.3"/>
<rect class="gr" width="58" height="28.6"/></g>
<rect class="ob" width="117" height="28.6"/>
</g>

<g id="n-lys" transform="translate(41,993)">
<rect class="nm" width="59" height="28.6"/><rect class="nm" y="28.6" width="59" height="28.6"/><rect class="nm" y="57.2" width="59" height="28.6"/><rect class="nm" y="85.8" width="59" height="28.6"/><rect class="nm" y="114.4" width="59" height="28.6"/>
<text class="t" x="55" y="21">Lys21</text><text class="t" x="55" y="49.6">Lys20</text><text class="t" x="55" y="78.2">Aco2</text><text class="t" x="55" y="106.8">Lys4</text><text class="t" x="55" y="135.4">Lys12</text>
<g transform="translate(59,0)"><rect class="hb" width="58" height="143"/>
<use href="#c" class="k" x="29"/><use href="#c" class="G" y="14.3"/><use href="#c" class="m" x="14.5" y="14.3"/><use href="#c" class="m" x="29" y="14.3"/><use href="#c" class="d" x="43.5" y="14.3"/>
<use href="#c" class="m" x="29" y="28.6"/><use href="#c" class="d" x="43.5" y="28.6"/><use href="#c" class="k" x="14.5" y="42.9"/><use href="#c" class="d" x="43.5" y="42.9"/>
<use href="#c" class="G" y="57.2"/><use href="#c" class="d" x="29" y="57.2"/><use href="#c" class="d" x="43.5" y="57.2"/><use href="#c" class="k" x="29" y="71.5"/><use href="#c" class="d" x="43.5" y="71.5"/>
<use href="#c" class="m" x="29" y="85.8"/><use href="#c" class="d" x="43.5" y="85.8"/><use href="#c" class="k" x="29" y="100.1"/><use href="#c" class="m" x="43.5" y="100.1"/>
<use href="#c" class="m" x="29" y="114.4"/><use href="#c" class="k" x="43.5" y="114.4"/><use href="#c" class="d" x="29" y="128.7"/><use href="#c" class="k" x="43.5" y="128.7"/>
<rect class="gr" width="58" height="143"/></g>
<rect class="ob" width="117" height="143"/>
</g>

<g id="n-aro8lys" transform="translate(158,1022)">
<rect class="nm" width="57" height="28.6"/><rect class="nm" y="28.6" width="57" height="28.6"/><rect class="nm" y="57.2" width="57" height="28.6"/><rect class="nm" y="85.8" width="57" height="28.6"/>
<text class="t" x="53" y="21">Aro8</text><text class="t" x="53" y="49.6">Lys2</text><text class="t" x="53" y="78.2">Lys9</text><text class="t" x="53" y="106.8">Lys1</text>
<g transform="translate(57,0)"><rect class="hb" width="58" height="114.4"/>
<use href="#c" class="m" x="29"/><use href="#c" class="m" x="43.5"/><use href="#c" class="m" x="14.5" y="14.3"/>
<use href="#c" class="k" x="43.5" y="28.6"/><use href="#c" class="k" x="14.5" y="42.9"/><use href="#c" class="m" x="43.5" y="42.9"/>
<use href="#c" class="m" x="29" y="57.2"/><use href="#c" class="m" x="43.5" y="57.2"/><use href="#c" class="m" x="29" y="71.5"/><use href="#c" class="m" x="43.5" y="71.5"/>
<use href="#c" class="k" x="14.5" y="85.8"/><use href="#c" class="d" y="100.1"/>
<rect class="gr" width="58" height="114.4"/></g>
<rect class="ob" width="115" height="114.4"/>
</g>

<g id="legend">
<rect x="441" y="1040" width="559" height="147" fill="#f2f2f2"/>
<rect x="452" y="1063" width="211" height="120" fill="#f2f2f2" stroke="#f9b71a" stroke-width="2"/>
<rect x="466" y="1106" width="183" height="32" fill="url(#grad)"/>
<g font-size="19" fill="#111">
<text transform="translate(482,1101) rotate(-90)">0</text>
<text transform="translate(524,1101) rotate(-90)">50</text>
<text transform="translate(567,1101) rotate(-90)">100</text>
<text transform="translate(610,1101) rotate(-90)">200</text>
<text transform="translate(654,1101) rotate(-90)">400</text>
<text x="561" y="1158" text-anchor="middle">Protein</text>
<text x="558" y="1177" text-anchor="middle">abundance (grouped)</text>
<text x="702" y="1066">Mean</text>
<text transform="translate(695,1132) rotate(-90)" font-size="18">×(1-CV%)</text>
<text transform="translate(767,1132) rotate(-90)" font-size="18">×(1+CV%)</text>
</g>
<rect x="713" y="1083" width="21" height="21" fill="#fff" stroke="#f9b71a" stroke-width="2"/>
<rect x="714" y="1084" width="3" height="19" fill="#c8c8c8"/>
<rect x="717" y="1084" width="5" height="19" fill="#111"/>
<rect x="724" y="1084" width="9" height="19" fill="#bfe8cf"/>
<path class="ale" d="M723,1083V1068" stroke="#4472c4" stroke-width="2.4" fill="none"/>
<path class="ale" d="M713,1093H698" stroke="#4472c4" stroke-width="2.4" fill="none"/>
<path class="ale" d="M734,1093H752" stroke="#4472c4" stroke-width="2.4" fill="none"/>
<g fill="#fff" stroke="#f9b71a" stroke-width="2">
<rect x="778" y="1049" width="48" height="24"/><rect x="826" y="1049" width="48" height="24"/>
<rect x="778" y="1073" width="24" height="69"/><rect x="802" y="1073" width="24" height="69"/><rect x="826" y="1073" width="24" height="69"/><rect x="850" y="1073" width="24" height="69"/>
<rect x="681" y="1143" width="97" height="43"/>
<rect x="778" y="1143" width="24" height="21"/><rect x="802" y="1143" width="24" height="21"/><rect x="826" y="1143" width="24" height="21"/><rect x="850" y="1143" width="24" height="21"/>
<rect x="778" y="1164" width="24" height="22"/><rect x="802" y="1164" width="24" height="22"/><rect x="826" y="1164" width="24" height="22"/><rect x="850" y="1164" width="24" height="22"/>
</g>
<path d="M778,1142H952M778,1164H952M778,1186H952" stroke="#4472c4" stroke-width="2.2"/>
<g font-size="19" fill="#111">
<text x="802" y="1068" text-anchor="middle">EXP</text>
<text x="850" y="1068" text-anchor="middle">ETH</text>
<text transform="translate(796,1139) rotate(-90)" font-size="17">HXK2</text>
<text transform="translate(820,1139) rotate(-90)" font-size="17">dHxk2p</text>
<text transform="translate(844,1139) rotate(-90)" font-size="17">HXK2</text>
<text transform="translate(868,1139) rotate(-90)" font-size="17">dHxk2p</text>
<text x="729" y="1174" text-anchor="middle" font-size="25">Name</text>
<text x="881" y="1159" font-size="17" font-style="italic">GAL80</text>
<text x="881" y="1181" font-size="17" font-style="italic">gal80Δ</text>
<text transform="translate(973,1187) rotate(-90)">Batch</text>
<text x="908" y="1081" font-size="18">Not</text>
<text x="908" y="1102" font-size="18">found</text>
<text x="907" y="1131">Note 1</text>
</g>
<rect x="883" y="1074" width="19" height="18" fill="url(#chk)" stroke="#f9b71a" stroke-width="2"/>
<rect x="883" y="1112" width="19" height="20" fill="#fff" stroke="#f9b71a" stroke-width="2"/>
<path d="M884,1119H901M884,1125H901" stroke="#1ab0e8" stroke-width="1.8"/>
</g>
</svg>
